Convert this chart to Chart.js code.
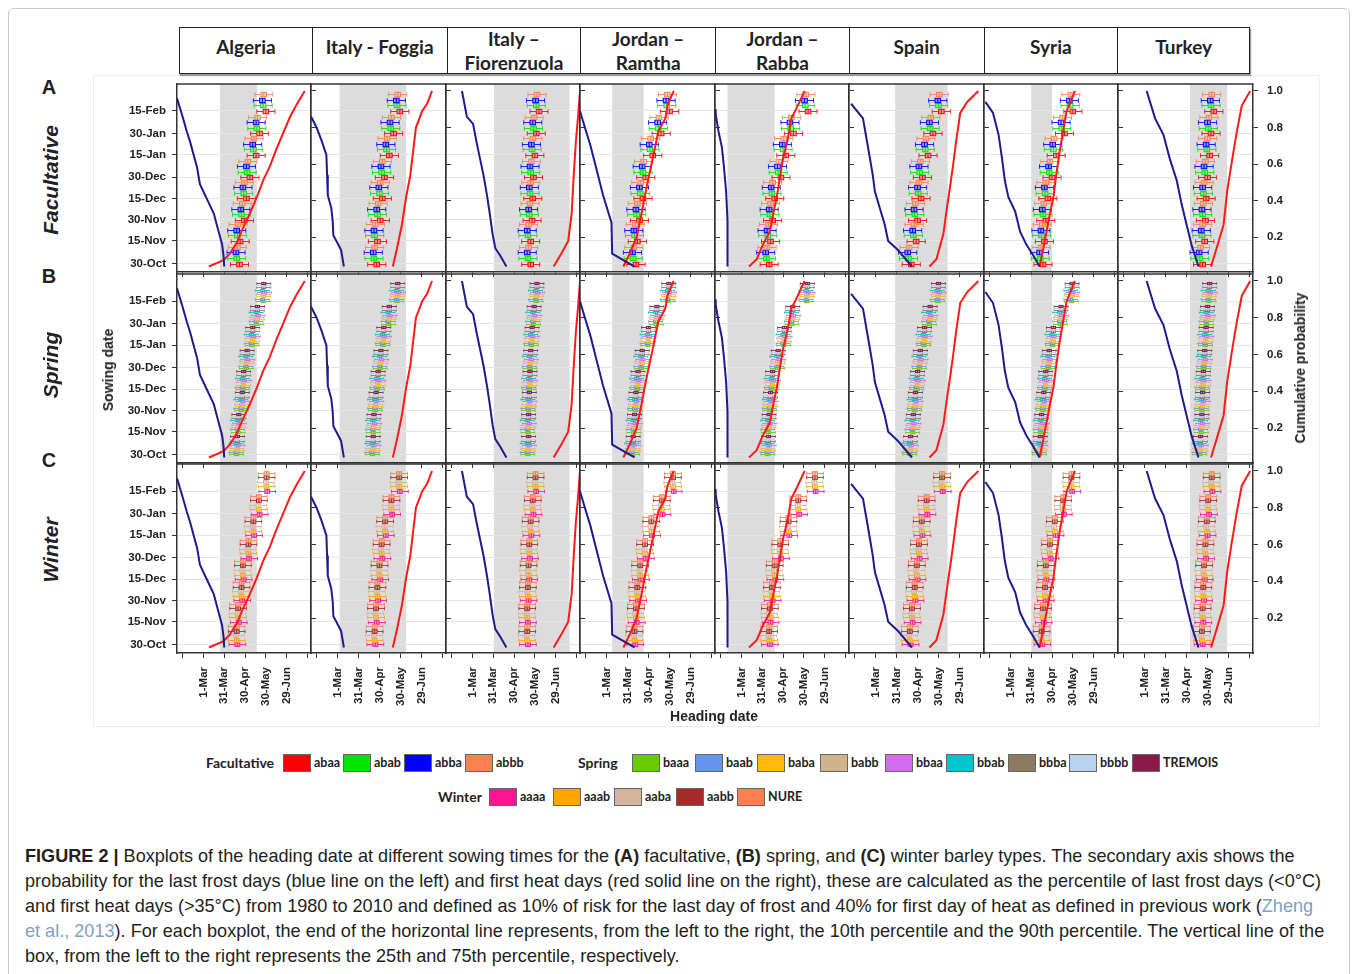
<!DOCTYPE html>
<html>
<head>
<meta charset="utf-8">
<title>Heading date boxplots</title>
<script src="https://cdn.jsdelivr.net/npm/chart.js@4.4.1/dist/chart.umd.min.js"></script>
<style>
  html, body { margin: 0; padding: 0; background: #fff; }
  body { width: 1358px; height: 974px; position: relative; overflow: hidden;
         font-family: 'Liberation Sans', Arial, sans-serif; color: #222; }
  .abs { position: absolute; }
  #frame { left: 8px; top: 8px; width: 1340px; height: 1000px; border: 1px solid #c9c9c9; border-radius: 6px; }
  #plotFrame { left: 93px; top: 75px; width: 1225px; height: 650px; border: 1px solid #ececec; }
  #sites { left: 179px; top: 27px; width: 1071px; height: 47px; border: 1.5px solid #222;
           box-sizing: border-box; display: flex; box-shadow: 1px 2px 1px #9a9a9a; }
  #sites div { display: flex; align-items: center; justify-content: center; text-align: center;
               font-family: Lato, sans-serif; font-weight: 700; font-size: 19px; line-height: 24px;
               white-space: pre-line; box-sizing: border-box; }
  #sites div.one { padding-bottom: 7px; }
  #sites div + div { border-left: 1.5px solid #222; }
  .rot { transform: translate(-50%, -50%) rotate(-90deg); white-space: nowrap; }
  .rowLetter { font-weight: bold; font-size: 20px; }
  .rowName { font-weight: bold; font-style: italic; font-size: 21px; }
  .axTitle { font-weight: bold; font-size: 14px; }
  canvas.panel { position: absolute; }
  .lg { font-family: Lato, sans-serif; font-weight: 700; font-size: 12.5px; line-height: 18px; white-space: nowrap; }
  .lgHead { font-size: 14px; }
  .sw { width: 28px; height: 18px; box-sizing: border-box; border: 1px solid #666; }
  #caption { left: 25px; top: 844px; font-size: 18.1px; line-height: 25px; color: #231f20; }
  #caption div { white-space: nowrap; }
  #caption b { font-weight: bold; }
  .ref { color: #7fa0c4; }
</style>
</head>
<body>
<div id="frame" class="abs"></div>
<div id="plotFrame" class="abs"></div>
<div id="sites" class="abs"></div>
<div id="plots"></div>
<div id="legend"></div>

<div id="caption" class="abs">
  <div><b>FIGURE 2 |</b> Boxplots of the heading date at different sowing times for the <b>(A)</b> facultative, <b>(B)</b> spring, and <b>(C)</b> winter barley types. The secondary axis shows the</div>
  <div>probability for the last frost days (blue line on the left) and first heat days (red solid line on the right), these are calculated as the percentile of last frost days (&lt;0°C)</div>
  <div>and first heat days (&gt;35°C) from 1980 to 2010 and defined as 10% of risk for the last day of frost and 40% for first day of heat as defined in previous work (<span class="ref">Zheng</span></div>
  <div><span class="ref">et al., 2013</span>). For each boxplot, the end of the horizontal line represents, from the left to the right, the 10th percentile and the 90th percentile. The vertical line of the</div>
  <div>box, from the left to the right represents the 25th and 75th percentile, respectively.</div>
</div>

<script>
// ─── Data ─────────────────────────────────────────────────
const SITES = ['Algeria', 'Italy - Foggia', 'Italy –\nFiorenzuola', 'Jordan –\nRamtha',
               'Jordan –\nRabba', 'Spain', 'Syria', 'Turkey'];
const TYPE_NAMES = ['Facultative', 'Spring', 'Winter'];
const ROW_LETTERS = ['A', 'B', 'C'];

// sowing dates as day numbers (Jan/Feb continue after 365)
const SOW_DATES  = [303, 319, 334, 349, 364, 380, 395, 411];
const SOW_LABELS = ['30-Oct', '15-Nov', '30-Nov', '15-Dec', '30-Dec', '15-Jan', '30-Jan', '15-Feb'];
// heading date, day of year
const HEAD_TICKS  = [30, 60, 90, 120, 150, 180, 210];
const HEAD_LABELS = ['', '1-Mar', '31-Mar', '30-Apr', '30-May', '29-Jun', ''];
const PROB_TICKS  = [0.2, 0.4, 0.6, 0.8, 1.0];

// grey window per site [from, to] heading day
const SAFE_WINDOW = [[84, 137], [63, 158], [91, 200], [68, 113], [40, 108], [88, 163], [90, 120], [125, 178]];

// last frost cumulative probability [heading day, prob] per site
const FROST_LINES = [
  [[22, .96], [30, .86], [36, .78], [41, .72], [51, .58], [55, .49], [65, .41], [75, .33], [82, .23], [87, .16], [89, .10], [90, .04]],
  [[22, .86], [30, .80], [37, .73], [44, .65], [45, .54], [46, .43], [51, .36], [53, .29], [54, .21], [61, .16], [65, .13], [69, .04]],
  [[45, 1.0], [52, .86], [61, .82], [66, .72], [71, .63], [76, .54], [81, .43], [85, .33], [89, .22], [93, .14], [100, .10], [109, .04]],
  [[22, .89], [29, .80], [37, .70], [45, .58], [55, .43], [67, .28], [68, .11], [100, .04]],
  [[22, .90], [23, .87], [27, .78], [32, .69], [35, .58], [38, .45], [40, .29], [40, .04]],
  [[25, .93], [42, .85], [47, .74], [52, .63], [56, .54], [59, .45], [66, .36], [73, .27], [78, .18], [92, .13], [112, .04]],
  [[24, .94], [35, .88], [43, .76], [48, .63], [52, .51], [57, .42], [67, .34], [74, .23], [83, .16], [93, .10], [102, .04]],
  [[63, 1.0], [75, .85], [87, .76], [96, .63], [106, .51], [113, .38], [120, .27], [127, .16], [137, .04]]
];
// first heat cumulative probability [heading day, prob] per site
const HEAT_LINES = [
  [[68, .04], [89, .075], [98, .11], [108, .17], [117, .25], [127, .33], [137, .42], [146, .51], [156, .59], [165, .68], [175, .77], [185, .86], [195, .93], [206, 1.0]],
  [[139, .04], [145, .14], [152, .27], [158, .42], [164, .54], [168, .67], [172, .80], [181, .89], [188, .93], [195, 1.0]],
  [[177, .04], [188, .11], [198, .18], [203, .33], [206, .54], [209, .72], [212, .85], [215, 1.0]],
  [[84, .04], [93, .11], [103, .20], [110, .33], [117, .47], [127, .65], [134, .78], [144, .85], [147, .92], [156, 1.0]],
  [[71, .04], [82, .08], [91, .16], [101, .23], [106, .33], [111, .42], [116, .54], [120, .63], [127, .74], [132, .85], [140, .91], [151, 1.0]],
  [[137, .04], [147, .08], [157, .22], [162, .36], [167, .49], [171, .60], [175, .72], [181, .88], [191, .94], [207, 1.0]],
  [[102, .04], [107, .13], [112, .23], [117, .33], [122, .42], [126, .54], [131, .67], [136, .78], [141, .89], [153, 1.0]],
  [[155, .04], [163, .14], [173, .27], [178, .45], [185, .62], [192, .78], [199, .92], [211, 1.0]]
];

// median heading day per sowing date (one row per site)
const MED_FACULTATIVE = [
  [108, 109, 115, 118, 123, 132, 137, 146], [112, 113, 117, 120, 123, 130, 136, 145],
  [140, 140, 142, 143, 144, 146, 148, 152], [98, 100, 103, 108, 112, 122, 134, 146],
  [96, 98, 101, 104, 113, 120, 131, 152], [107, 114, 116, 121, 123, 131, 138, 150],
  [103, 105, 107, 110, 116, 122, 134, 146], [139, 142, 143, 144, 146, 149, 151, 155]
];
const MED_SPRING = [
  [108, 110, 115, 117, 122, 130, 137, 146], [110, 111, 114, 117, 121, 125, 133, 145],
  [140, 140, 141, 142, 143, 145, 148, 152], [97, 99, 101, 104, 110, 119, 131, 148],
  [98, 99, 101, 104, 112, 121, 133, 154], [109, 113, 116, 119, 123, 129, 137, 149],
  [102, 104, 107, 110, 115, 121, 132, 148], [139, 141, 142, 143, 145, 147, 149, 152]
];
const MED_WINTER = [
  [108, 110, 115, 117, 125, 132, 140, 151], [113, 115, 117, 120, 123, 128, 137, 148],
  [139, 139, 140, 141, 142, 144, 147, 151], [100, 102, 104, 108, 115, 124, 139, 155],
  [100, 101, 104, 108, 116, 128, 142, 166], [109, 112, 116, 119, 122, 126, 133, 155],
  [105, 107, 110, 111, 117, 124, 136, 148], [142, 143, 144, 145, 147, 149, 151, 156]
];

const GENO_FACULTATIVE = ['abaa', 'abab', 'abba', 'abbb'];
const GENO_SPRING = ['baaa', 'baab', 'baba', 'babb', 'bbaa', 'bbab', 'bbba', 'bbbb', 'TREMOIS'];
const GENO_WINTER = ['aaaa', 'aaab', 'aaba', 'aabb', 'NURE'];
// genotype shift from the group median (days)
const SHIFT_FACULTATIVE = [4, 0, -1, 1];
const SHIFT_SPRING = [0, -1, 1, 0, 2, -1, 1, 0, 1];
const SHIFT_WINTER = [1, 0, -1, 0, 0];
// box half IQR and whisker half spread (days) per type
const HALF_IQR = [4, 3, 3.5];
const HALF_WHISKER = [13, 10, 12];

// ─── Styles / layout ──────────────────────────────────────
const GENO_COLORS = {
  abaa: '#ff0000', abab: '#00e600', abba: '#0000ff', abbb: '#ff7f50',
  baaa: '#66cc00', baab: '#6495ed', baba: '#ffb90f', babb: '#d2b48c', bbaa: '#d36cf0',
  bbab: '#00c5cd', bbba: '#8b7b60', bbbb: '#b9d3ee', TREMOIS: '#8b1a4a',
  aaaa: '#ff1493', aaab: '#ffa500', aaba: '#d2b49c', aabb: '#a52a2a', NURE: '#ff7f50'
};
const TYPES = [
  { genos: GENO_FACULTATIVE, shift: SHIFT_FACULTATIVE, med: MED_FACULTATIVE, step: 3.9, boxH: 4.5 },
  { genos: GENO_SPRING,      shift: SHIFT_SPRING,      med: MED_SPRING,      step: 1.6, boxH: 2.2 },
  { genos: GENO_WINTER,      shift: SHIFT_WINTER,      med: MED_WINTER,      step: 3.2, boxH: 3.6 }
];
const PANEL_X = [177, 311, 446, 580, 715, 849, 984, 1118, 1253];
const PANEL_Y = [[84, 272], [274, 463], [464, 653]];
const TICK_FONT = { family: 'Liberation Sans', weight: 'bold', size: 11.5 };

function rgba(hex, a) {
  const n = parseInt(hex.slice(1), 16);
  return `rgba(${n >> 16},${(n >> 8) & 255},${n & 255},${a})`;
}

// ─── Header / labels ─────────────────────────────────────
const sitesEl = document.getElementById('sites');
SITES.forEach((s, i) => {
  const d = document.createElement('div');
  d.style.width = (i === 0 ? PANEL_X[1] - 179 : (i === 7 ? 1250 - PANEL_X[7] : PANEL_X[i + 1] - PANEL_X[i])) + 'px';
  d.textContent = s;
  if (!s.includes('\n')) d.className = 'one';
  sitesEl.appendChild(d);
});

function addText(html, cls, x, y, rotate) {
  const d = document.createElement('div');
  d.className = 'abs ' + cls + (rotate ? ' rot' : '');
  d.innerHTML = html;
  d.style.left = x + 'px';
  d.style.top = y + 'px';
  if (!rotate) d.style.transform = 'translate(-50%, -50%)';
  document.body.appendChild(d);
}
[[87, 180], [276, 365], [460, 550]].forEach(([ly, ny], r) => {
  addText(ROW_LETTERS[r], 'rowLetter', 49, ly, false);
  addText(TYPE_NAMES[r], 'rowName', 51, ny, true);
});
addText('Sowing date', 'axTitle', 108, 370, true);
addText('Cumulative probability', 'axTitle', 1300, 368, true);
addText('Heading date', 'axTitle', 714, 716, false);

// ─── Panel plugin: grey window, boxplots, top border ──────
const panelDecor = {
  id: 'panelDecor',
  beforeDraw(chart, args, opts) {
    const { ctx, chartArea: a, scales: { x } } = chart;
    const b0 = x.getPixelForValue(opts.band[0]), b1 = x.getPixelForValue(opts.band[1]);
    ctx.save();
    ctx.fillStyle = '#dcdcdc';
    ctx.fillRect(b0, a.top, b1 - b0, a.bottom - a.top);
    ctx.restore();
  },
  beforeDatasetsDraw(chart) {
    const { ctx, scales: { x, y } } = chart;
    ctx.save();
    chart.data.datasets.filter(d => d.boxColor).forEach(ds => {
      const col = ds.boxColor, h = ds.boxH / 2;
      ctx.lineWidth = 1;
      ds.data.forEach(p => {
        const yc = Math.round(y.getPixelForValue(p.y)) + 0.5;
        const xl = x.getPixelForValue(p.lo), xh = x.getPixelForValue(p.hi);
        const q1 = x.getPixelForValue(p.q1), q3 = x.getPixelForValue(p.q3), m = x.getPixelForValue(p.x);
        ctx.strokeStyle = rgba(col, 0.85);
        ctx.beginPath();
        ctx.moveTo(xl, yc); ctx.lineTo(q1, yc);
        ctx.moveTo(q3, yc); ctx.lineTo(xh, yc);
        ctx.moveTo(xl, yc - h); ctx.lineTo(xl, yc + h);
        ctx.moveTo(xh, yc - h); ctx.lineTo(xh, yc + h);
        ctx.stroke();
        ctx.fillStyle = rgba(col, 0.35);
        ctx.fillRect(q1, yc - h, q3 - q1, 2 * h);
        ctx.strokeStyle = col;
        ctx.strokeRect(q1, yc - h, q3 - q1, 2 * h);
        ctx.beginPath();
        ctx.moveTo(m, yc - h); ctx.lineTo(m, yc + h);
        ctx.stroke();
      });
    });
    ctx.restore();
  },
  afterDraw(chart) {
    const { ctx, chartArea: a } = chart;
    ctx.save();
    ctx.strokeStyle = '#333';
    ctx.lineWidth = 1.5;
    ctx.beginPath();
    ctx.moveTo(a.left, a.top); ctx.lineTo(a.right, a.top);
    ctx.stroke();
    ctx.restore();
  }
};

// ─── Panels ───────────────────────────────────────────────
const plotsEl = document.getElementById('plots');
PANEL_Y.forEach(([y0, y1], r) => {
  const type = TYPES[r];
  for (let c = 0; c < 8; c++) {
    const x0 = PANEL_X[c], x1 = PANEL_X[c + 1];
    const L = c === 0 ? 84 : 6, R = c === 7 ? 48 : 6, T = 2, B = r === 2 ? 66 : 6;
    const W = x1 - x0 + L + R, H = y1 - y0 + T + B;
    const cv = document.createElement('canvas');
    cv.className = 'panel';
    cv.width = W; cv.height = H;
    cv.style.left = (x0 - L) + 'px';
    cv.style.top = (y0 - T) + 'px';
    cv.style.width = W + 'px';
    cv.style.height = H + 'px';
    plotsEl.appendChild(cv);

    const datasets = type.genos.map((g, k) => ({
      boxColor: GENO_COLORS[g],
      boxH: type.boxH,
      pointRadius: 0,
      data: type.med[c].map((m, i) => {
        const med = m + type.shift[k];
        return { x: med, y: SOW_DATES[i] + k * type.step,
                 q1: med - HALF_IQR[r], q3: med + HALF_IQR[r],
                 lo: med - HALF_WHISKER[r], hi: med + HALF_WHISKER[r] };
      })
    }));
    datasets.push({
      data: FROST_LINES[c].map(([x, p]) => ({ x, y: p })), yAxisID: 'y2',
      showLine: true, borderColor: '#1c1c8f', borderWidth: 2, pointRadius: 0
    });
    datasets.push({
      data: HEAT_LINES[c].map(([x, p]) => ({ x, y: p })), yAxisID: 'y2',
      showLine: true, borderColor: '#ff1a1a', borderWidth: 2, pointRadius: 0
    });

    new Chart(cv, {
      type: 'scatter',
      data: { datasets },
      options: {
        responsive: false, animation: false, events: [],
        layout: { padding: { top: T, left: 0, right: 0, bottom: 0 } },
        plugins: { legend: { display: false }, tooltip: { enabled: false },
                   panelDecor: { band: SAFE_WINDOW[c] } },
        scales: {
          x: {
            type: 'linear', position: 'bottom', min: 22, max: 215,
            afterBuildTicks: s => { s.ticks = HEAD_TICKS.map(v => ({ value: v })); },
            afterFit: s => { s.height = B; s.paddingLeft = 0; s.paddingRight = 0; },
            ticks: { display: r === 2, minRotation: 90, maxRotation: 90, autoSkip: false,
                     padding: 9, font: TICK_FONT, color: '#222',
                     callback: v => HEAD_LABELS[HEAD_TICKS.indexOf(v)] ?? '' },
            grid: { drawOnChartArea: false, tickLength: 5, tickColor: '#333' },
            border: { color: '#333', width: 1.5 }
          },
          y: {
            type: 'linear', position: 'left', min: 297, max: 430,
            afterBuildTicks: s => { s.ticks = SOW_DATES.map(v => ({ value: v })); },
            afterFit: s => { s.width = L; s.paddingTop = 0; s.paddingBottom = 0; },
            ticks: { display: c === 0, padding: 6, font: TICK_FONT, color: '#222',
                     callback: v => SOW_LABELS[SOW_DATES.indexOf(v)] ?? '' },
            grid: { color: '#e4e4e4', drawTicks: c === 0, tickLength: 5, tickColor: '#333' },
            border: { color: '#333', width: 1.5 }
          },
          y2: {
            type: 'linear', position: 'right', min: 0.01, max: 1.038,
            afterBuildTicks: s => { s.ticks = PROB_TICKS.map(v => ({ value: v })); },
            afterFit: s => { s.width = R; s.paddingTop = 0; s.paddingBottom = 0; },
            ticks: { display: c === 7, padding: 9, font: TICK_FONT, color: '#222',
                     callback: v => v.toFixed(1) },
            grid: { drawOnChartArea: false, tickLength: 5, tickColor: '#333' },
            border: { color: '#333', width: 1.5 }
          }
        }
      },
      plugins: [panelDecor]
    });
  }
});

// ─── Legend ───────────────────────────────────────────────
const legendEl = document.getElementById('legend');
function legendRow(title, titleX, cy, genos, swatchX) {
  const t = document.createElement('div');
  t.className = 'abs lg lgHead';
  t.textContent = title;
  t.style.left = titleX + 'px';
  t.style.top = (cy - 9) + 'px';
  legendEl.appendChild(t);
  genos.forEach((g, i) => {
    const sw = document.createElement('div');
    sw.className = 'abs sw';
    sw.style.background = GENO_COLORS[g];
    sw.style.left = swatchX[i] + 'px';
    sw.style.top = (cy - 9) + 'px';
    legendEl.appendChild(sw);
    const lb = document.createElement('div');
    lb.className = 'abs lg';
    lb.textContent = g;
    lb.style.left = (swatchX[i] + 31) + 'px';
    lb.style.top = (cy - 9) + 'px';
    legendEl.appendChild(lb);
  });
}
legendRow('Facultative', 206, 763, GENO_FACULTATIVE, [283, 343, 404, 465]);
legendRow('Spring', 578, 763, GENO_SPRING, [632, 695, 757, 820, 885, 946, 1008, 1069, 1132]);
legendRow('Winter', 438, 797, GENO_WINTER, [489, 553, 614, 676, 737]);
</script>
</body>
</html>
